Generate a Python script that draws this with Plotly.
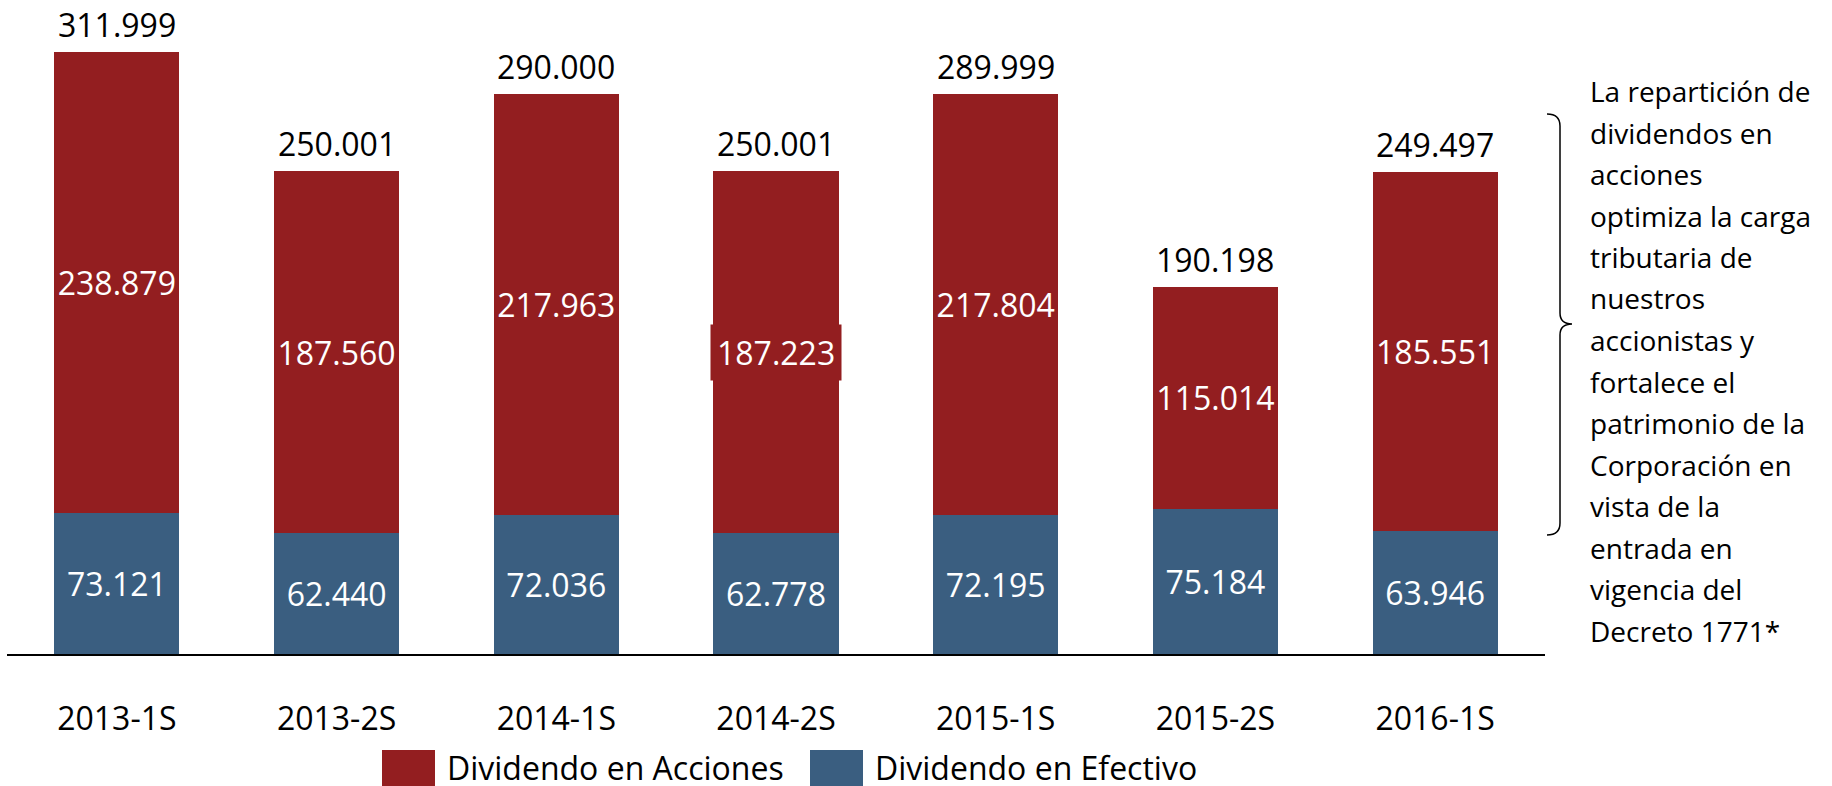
import plotly.graph_objects as go

periodos = ["2013-1S", "2013-2S", "2014-1S", "2014-2S", "2015-1S", "2015-2S", "2016-1S"]
efectivo = [73.121, 62.440, 72.036, 62.778, 72.195, 75.184, 63.946]
acciones = [238.879, 187.560, 217.963, 187.223, 217.804, 115.014, 185.551]
totales = [311.999, 250.001, 290.000, 250.001, 289.999, 190.198, 249.497]

nota = ["La repartición de", "dividendos en", "acciones", "optimiza la carga",
        "tributaria de", "nuestros", "accionistas y", "fortalece el",
        "patrimonio de la", "Corporación en", "vista de la", "entrada en",
        "vigencia del", "Decreto 1771*"]

ROJO = "#931E20"
AZUL = "#3A5E80"
FONT = "Open Sans"

W, H = 1832, 786
L, R, T, B = 7, 287, 17, 132
pw, ph = W - L - R, H - T - B


def px(x):
    return (x - L) / pw


def py(y):
    return (H - B - y) / ph


# la etiqueta de 2014-2S lleva recuadro propio (como en el original)
con_caja = 3
txt_acc = [f"{v:.3f}" if i != con_caja else "" for i, v in enumerate(acciones)]

fig = go.Figure()
fig.add_trace(go.Bar(x=periodos, y=efectivo, name="Dividendo en Efectivo",
                     marker=dict(color=AZUL, line=dict(width=0)),
                     text=[f"{v:.3f}" for v in efectivo],
                     textposition="inside", insidetextanchor="middle",
                     textangle=0, constraintext="none",
                     textfont=dict(family=FONT, size=32, color="white")))
fig.add_trace(go.Bar(x=periodos, y=acciones, name="Dividendo en Acciones",
                     marker=dict(color=ROJO, line=dict(width=0)),
                     text=txt_acc,
                     textposition="inside", insidetextanchor="middle",
                     textangle=0, constraintext="none",
                     textfont=dict(family=FONT, size=32, color="white")))

fig.add_annotation(x=periodos[con_caja], y=efectivo[con_caja] + acciones[con_caja] / 2,
                   text=f"{acciones[con_caja]:.3f}", showarrow=False,
                   bgcolor=ROJO, borderpad=6,
                   font=dict(family=FONT, size=32, color="white"))

# totales arriba de cada barra
for p, t in zip(periodos, totales):
    fig.add_annotation(x=p, y=t, text=f"{t:.3f}", showarrow=False,
                       yanchor="bottom", yshift=4,
                       font=dict(family=FONT, size=32, color="black"))

# nota a la derecha
for i, linea in enumerate(nota):
    fig.add_annotation(xref="paper", yref="paper", x=px(1588), y=py(91 + i * 41.5),
                       text=linea, showarrow=False, xanchor="left", yanchor="middle",
                       font=dict(family=FONT, size=28, color="black"))

# llave
llave = (f"M {px(1547)},{py(114)} Q {px(1560)},{py(114)} {px(1560)},{py(126)} "
         f"L {px(1560)},{py(313)} Q {px(1560)},{py(324)} {px(1572)},{py(324)} "
         f"Q {px(1560)},{py(324)} {px(1560)},{py(335)} "
         f"L {px(1560)},{py(523)} Q {px(1560)},{py(535)} {px(1547)},{py(535)}")
fig.add_shape(type="path", path=llave, xref="paper", yref="paper",
              line=dict(color="black", width=1.5))

# leyenda
leyenda = [("Dividendo en Acciones", ROJO, 382), ("Dividendo en Efectivo", AZUL, 810)]
for txt, col, x0 in leyenda:
    fig.add_shape(type="rect", xref="paper", yref="paper",
                  x0=px(x0), x1=px(x0 + 53), y0=py(750), y1=py(800),
                  fillcolor=col, line=dict(width=0))
    fig.add_annotation(xref="paper", yref="paper", x=px(x0 + 63), y=py(767),
                       text=txt, showarrow=False, xanchor="left", yanchor="middle",
                       font=dict(family=FONT, size=32, color="black"))

fig.update_layout(
    width=W, height=H, barmode="stack", bargap=0.43,
    margin=dict(l=L, r=R, t=T, b=B, autoexpand=False),
    plot_bgcolor="white", paper_bgcolor="white",
    showlegend=False,
    font=dict(family=FONT, size=32, color="black"),
)
fig.update_xaxes(showline=True, linecolor="black", linewidth=2,
                 ticks="outside", ticklen=36, tickcolor="rgba(0,0,0,0)",
                 tickfont=dict(family=FONT, size=32, color="black"),
                 showgrid=False, automargin=False)
fig.update_yaxes(range=[0, 330], visible=False, showgrid=False, automargin=False)

fig.write_html("out.html", config={"displayModeBar": False},
               post_script="document.body.style.margin='0';document.body.style.overflow='hidden';")
